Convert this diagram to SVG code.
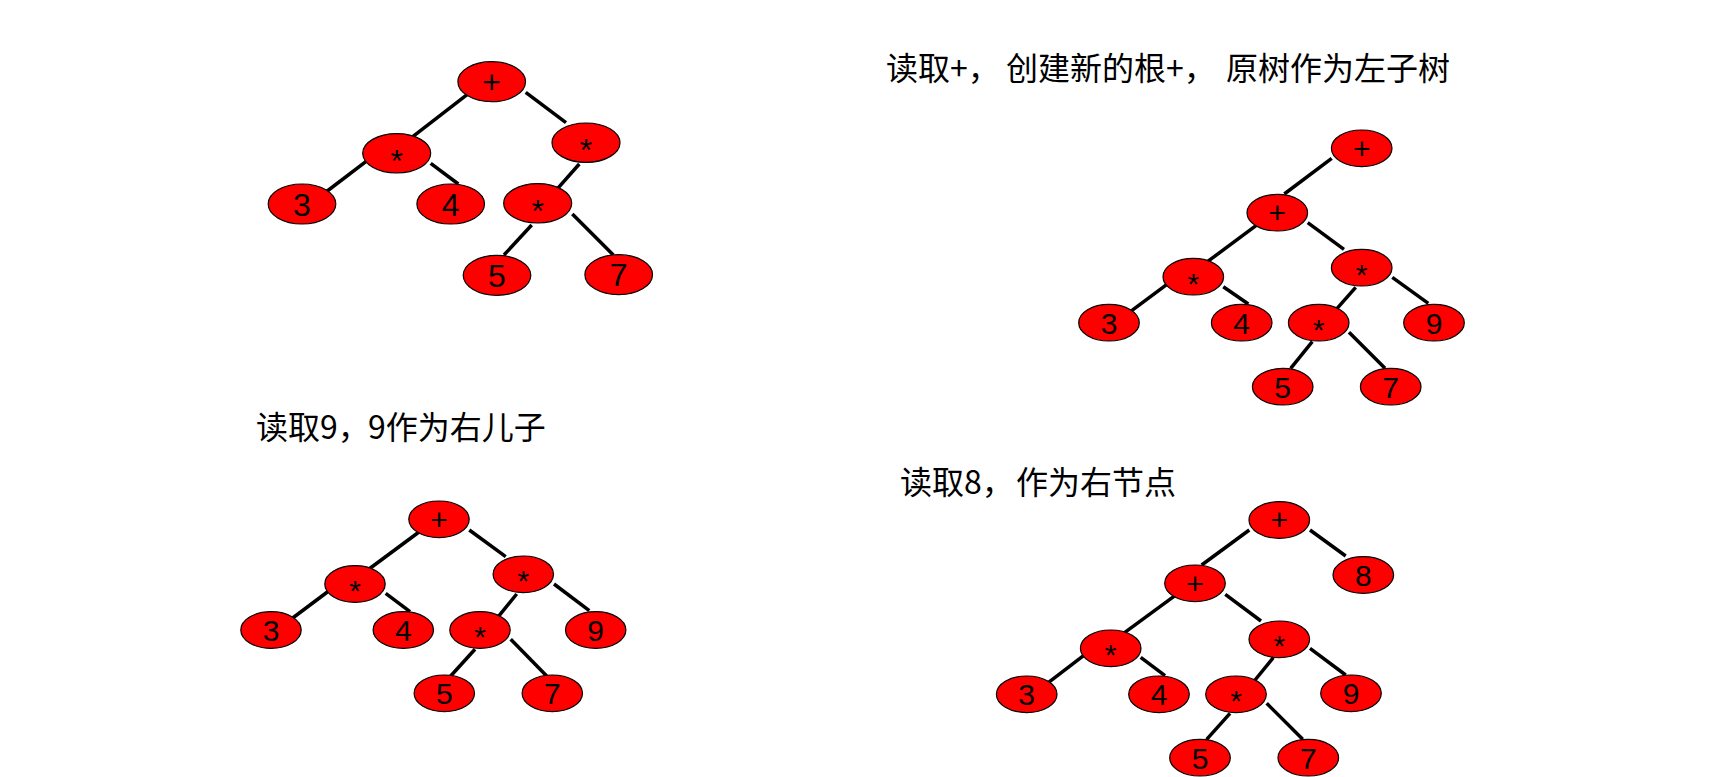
<svg xmlns="http://www.w3.org/2000/svg" width="1711" height="777" viewBox="0 0 1711 777">
<style>
.n{fill:#FF0000;stroke:#000;stroke-width:1.2}
.t{font-family:"Liberation Sans",Arial,sans-serif;font-size:30px;fill:#000;text-anchor:middle}
.tb{font-size:32px}
.title{font-family:"Noto Sans CJK SC","Noto Sans",sans-serif;font-size:32px;fill:#000}
.c line{stroke:#000;stroke-width:3.5}
</style>
<rect width="1711" height="777" fill="#fff"/>
<text class="title" y="80"><tspan x="886">读取+，</tspan><tspan x="1006">创建新的根+，</tspan><tspan x="1226">原树作为左子树</tspan></text>
<text class="title" y="438.5"><tspan x="256">读取9，</tspan><tspan x="368">9作为右儿子</tspan></text>
<text class="title" y="494"><tspan x="900">读取8，</tspan><tspan x="1016">作为右节点</tspan></text>
<g id="connectors" class="c">
<line x1="470" y1="92.3" x2="404" y2="143.3"/>
<line x1="525.7" y1="92.3" x2="566" y2="122.7"/>
<line x1="376.7" y1="153.3" x2="323.3" y2="194"/>
<line x1="430.7" y1="163.3" x2="458.3" y2="184"/>
<line x1="579.3" y1="164" x2="553.3" y2="193.3"/>
<line x1="531.7" y1="225" x2="504" y2="255"/>
<line x1="572.3" y1="214" x2="613.3" y2="255"/>
<line x1="1331.7" y1="158.3" x2="1284.3" y2="194"/>
<line x1="1259" y1="223.3" x2="1200.7" y2="266.7"/>
<line x1="1307.7" y1="222.7" x2="1344" y2="249.3"/>
<line x1="1175" y1="278.3" x2="1129" y2="312.7"/>
<line x1="1223.3" y1="286.7" x2="1248.3" y2="304"/>
<line x1="1355.7" y1="287.3" x2="1332.7" y2="313.3"/>
<line x1="1392.3" y1="277.3" x2="1428.3" y2="303.3"/>
<line x1="1312.3" y1="341.7" x2="1290.7" y2="368.3"/>
<line x1="1349" y1="332.3" x2="1385" y2="368.3"/>
<line x1="421.7" y1="530" x2="362.3" y2="574"/>
<line x1="469.3" y1="530" x2="505.7" y2="556.7"/>
<line x1="336.7" y1="585" x2="290" y2="620"/>
<line x1="385.7" y1="593.3" x2="410" y2="611.7"/>
<line x1="516.7" y1="594" x2="495" y2="620.7"/>
<line x1="554" y1="584" x2="589.3" y2="610.7"/>
<line x1="475" y1="649.3" x2="450.7" y2="676"/>
<line x1="510.7" y1="639.3" x2="546.7" y2="676"/>
<line x1="1249.3" y1="530" x2="1201.7" y2="565"/>
<line x1="1310" y1="530" x2="1345.7" y2="556"/>
<line x1="1176.7" y1="594.3" x2="1117.7" y2="637.7"/>
<line x1="1225.3" y1="594.3" x2="1261" y2="621"/>
<line x1="1091.7" y1="649.3" x2="1046" y2="684.3"/>
<line x1="1140.7" y1="657.3" x2="1165" y2="675.7"/>
<line x1="1273.3" y1="657.7" x2="1251" y2="685"/>
<line x1="1310" y1="648.3" x2="1345.7" y2="675"/>
<line x1="1230" y1="713.3" x2="1206.7" y2="739.3"/>
<line x1="1266.7" y1="703.3" x2="1302.7" y2="739.3"/>
</g>
<!-- Tree 1 -->
<g id="t1-plus"><ellipse class="n" cx="491.7" cy="81.7" rx="33.8" ry="20"/><text class="t tb" x="491.7" y="92.5">+</text></g>
<g id="t1-mulL"><ellipse class="n" cx="396.7" cy="153.3" rx="34" ry="19.7"/><text class="t tb" x="396.7" y="171.5">*</text></g>
<g id="t1-mulR"><ellipse class="n" cx="586" cy="142.7" rx="34" ry="19.7"/><text class="t tb" x="586" y="161">*</text></g>
<g id="t1-3"><ellipse class="n" cx="302" cy="204" rx="33.8" ry="20"/><text class="t tb" x="302" y="215.5">3</text></g>
<g id="t1-4"><ellipse class="n" cx="450.7" cy="204" rx="33.8" ry="20"/><text class="t tb" x="450.7" y="215.5">4</text></g>
<g id="t1-mulM"><ellipse class="n" cx="537.7" cy="203.3" rx="34" ry="19.7"/><text class="t tb" x="537.7" y="221.5">*</text></g>
<g id="t1-5"><ellipse class="n" cx="497" cy="275.3" rx="33.8" ry="20"/><text class="t tb" x="497" y="286.8">5</text></g>
<g id="t1-7"><ellipse class="n" cx="618.7" cy="274.7" rx="33.8" ry="20"/><text class="t tb" x="618.7" y="286.2">7</text></g>
<!-- Tree 2 -->
<g id="t2-root"><ellipse class="n" cx="1361.7" cy="148.3" rx="30.3" ry="18.3"/><text class="t" x="1361.7" y="158.5">+</text></g>
<g id="t2-plus"><ellipse class="n" cx="1277.3" cy="212.7" rx="30.3" ry="18.3"/><text class="t" x="1277.3" y="222.9">+</text></g>
<g id="t2-mulL"><ellipse class="n" cx="1193.3" cy="276.7" rx="30.3" ry="18.3"/><text class="t" x="1193.3" y="293.7">*</text></g>
<g id="t2-mulR"><ellipse class="n" cx="1361.7" cy="267.7" rx="30.3" ry="18.3"/><text class="t" x="1361.7" y="284.7">*</text></g>
<g id="t2-3"><ellipse class="n" cx="1109" cy="322.7" rx="30.3" ry="18.3"/><text class="t" x="1109" y="333.5">3</text></g>
<g id="t2-4"><ellipse class="n" cx="1241.7" cy="322.7" rx="30.3" ry="18.3"/><text class="t" x="1241.7" y="333.5">4</text></g>
<g id="t2-mulM"><ellipse class="n" cx="1318.7" cy="322.7" rx="30.3" ry="18.3"/><text class="t" x="1318.7" y="339.7">*</text></g>
<g id="t2-9"><ellipse class="n" cx="1434" cy="322.7" rx="30.3" ry="18.3"/><text class="t" x="1434" y="333.5">9</text></g>
<g id="t2-5"><ellipse class="n" cx="1282.7" cy="386.7" rx="30.3" ry="18.3"/><text class="t" x="1282.7" y="397.5">5</text></g>
<g id="t2-7"><ellipse class="n" cx="1390.7" cy="386.7" rx="30.3" ry="18.3"/><text class="t" x="1390.7" y="397.5">7</text></g>
<!-- Tree 3 -->
<g id="t3-plus"><ellipse class="n" cx="439" cy="519.3" rx="30.2" ry="18.3"/><text class="t" x="439" y="529.5">+</text></g>
<g id="t3-mulL"><ellipse class="n" cx="355" cy="584" rx="30.2" ry="18.3"/><text class="t" x="355" y="601">*</text></g>
<g id="t3-mulR"><ellipse class="n" cx="523.3" cy="574.3" rx="30.2" ry="18.3"/><text class="t" x="523.3" y="591.3">*</text></g>
<g id="t3-3"><ellipse class="n" cx="271" cy="630" rx="30.2" ry="18.3"/><text class="t" x="271" y="640.8">3</text></g>
<g id="t3-4"><ellipse class="n" cx="403.3" cy="630" rx="30.2" ry="18.3"/><text class="t" x="403.3" y="640.8">4</text></g>
<g id="t3-mulM"><ellipse class="n" cx="480" cy="630" rx="30.2" ry="18.3"/><text class="t" x="480" y="647">*</text></g>
<g id="t3-9"><ellipse class="n" cx="595.7" cy="630" rx="30.2" ry="18.3"/><text class="t" x="595.7" y="640.8">9</text></g>
<g id="t3-5"><ellipse class="n" cx="444.3" cy="693.3" rx="30.2" ry="18.3"/><text class="t" x="444.3" y="704.1">5</text></g>
<g id="t3-7"><ellipse class="n" cx="552.3" cy="693.3" rx="30.2" ry="18.3"/><text class="t" x="552.3" y="704.1">7</text></g>
<!-- Tree 4 -->
<g id="t4-root"><ellipse class="n" cx="1279.3" cy="520" rx="30.3" ry="18.3"/><text class="t" x="1279.3" y="530.2">+</text></g>
<g id="t4-8"><ellipse class="n" cx="1363.3" cy="575" rx="30.3" ry="18.3"/><text class="t" x="1363.3" y="585.8">8</text></g>
<g id="t4-plus"><ellipse class="n" cx="1195" cy="583.3" rx="30.3" ry="18.3"/><text class="t" x="1195" y="593.5">+</text></g>
<g id="t4-mulL"><ellipse class="n" cx="1110.7" cy="648.3" rx="30.3" ry="18.3"/><text class="t" x="1110.7" y="665.3">*</text></g>
<g id="t4-mulR"><ellipse class="n" cx="1279.3" cy="639.3" rx="30.3" ry="18.3"/><text class="t" x="1279.3" y="656.3">*</text></g>
<g id="t4-3"><ellipse class="n" cx="1026.7" cy="694.3" rx="30.3" ry="18.3"/><text class="t" x="1026.7" y="705.1">3</text></g>
<g id="t4-4"><ellipse class="n" cx="1159" cy="694.3" rx="30.3" ry="18.3"/><text class="t" x="1159" y="705.1">4</text></g>
<g id="t4-mulM"><ellipse class="n" cx="1236" cy="694.3" rx="30.3" ry="18.3"/><text class="t" x="1236" y="711.3">*</text></g>
<g id="t4-9"><ellipse class="n" cx="1351" cy="693.3" rx="30.3" ry="18.3"/><text class="t" x="1351" y="704.1">9</text></g>
<g id="t4-5"><ellipse class="n" cx="1200" cy="757.7" rx="30.3" ry="18.3"/><text class="t" x="1200" y="768.5">5</text></g>
<g id="t4-7"><ellipse class="n" cx="1308.3" cy="757.7" rx="30.3" ry="18.3"/><text class="t" x="1308.3" y="768.5">7</text></g>
</svg>
